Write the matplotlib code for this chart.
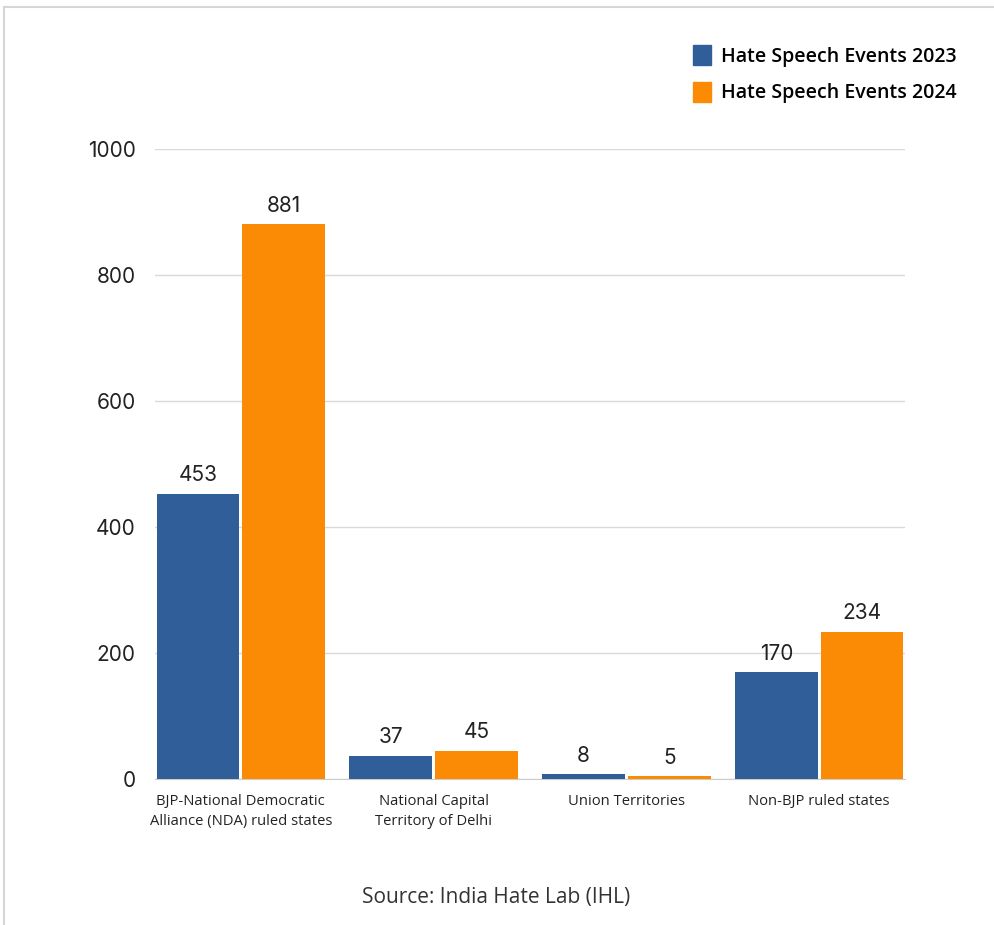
import matplotlib.pyplot as plt
from matplotlib.lines import Line2D
from matplotlib.patches import Patch
import numpy as np

categories = ["BJP-National Democratic\nAlliance (NDA) ruled states",
              "National Capital\nTerritory of Delhi",
              "Union Territories",
              "Non-BJP ruled states"]
events_2023 = [453, 37, 8, 170]
events_2024 = [881, 45, 5, 234]
yticks = [0, 200, 400, 600, 800, 1000]

blue = '#2f5e98'
orange = '#fb8b05'

fig = plt.figure(figsize=(9.94, 9.25), dpi=100)
ax = fig.add_axes([155/994, 1-779/925, 750/994, 630/925])

x = np.arange(len(categories))
w = 0.43
off = 0.222
b1 = ax.bar(x - off, events_2023, w, color=blue, zorder=3)
b2 = ax.bar(x + off, events_2024, w, color=orange, zorder=3)

for bars in (b1, b2):
    for b in bars:
        ax.annotate(str(int(b.get_height())), (b.get_x() + b.get_width()/2, b.get_height()),
                    xytext=(0, 6), textcoords='offset points', ha='center', va='bottom',
                    fontsize=15, family='Inter', color='#222222')

ax.set_xlim(-0.445, 3.445)
ax.set_ylim(0, 1000)
ax.set_yticks(yticks)
ax.set_yticklabels([str(t) for t in yticks], fontsize=15, family='Inter', color='#222222')
ax.tick_params(axis='y', length=0, pad=14)
ax.set_xticks(x)
ax.set_xticklabels(categories, fontsize=10.6, family='Open Sans', weight='medium',
                   color='#222222', linespacing=1.45)
ax.tick_params(axis='x', length=0, pad=11)
ax.grid(axis='y', color='#d9d9d9', linewidth=1, zorder=0)
for s in ['top', 'right', 'left']:
    ax.spines[s].set_visible(False)
ax.spines['bottom'].set_color('#cccccc')

handles = [Patch(color=blue, label='Hate Speech Events 2023'),
           Patch(color=orange, label='Hate Speech Events 2024')]
fig.legend(handles=handles, loc='upper right', bbox_to_anchor=(974/994, 1-28/925),
           frameon=False, prop={'family': 'Open Sans', 'weight': 'semibold', 'size': 14},
           handlelength=0.95, handleheight=1.2, handletextpad=0.5, labelspacing=0.75)

fig.text(496/994, 1-898/925, "Source: India Hate Lab (IHL)", ha='center', va='center',
         fontsize=15, family='Open Sans', color='#333333')

# screenshot frame
fig.add_artist(Line2D([4/994, 1], [1-7/925, 1-7/925], color='#d6d6d6', linewidth=1.5))
fig.add_artist(Line2D([4/994, 4/994], [0, 1-7/925], color='#d6d6d6', linewidth=1.5))

plt.savefig('out.png', dpi=100)
